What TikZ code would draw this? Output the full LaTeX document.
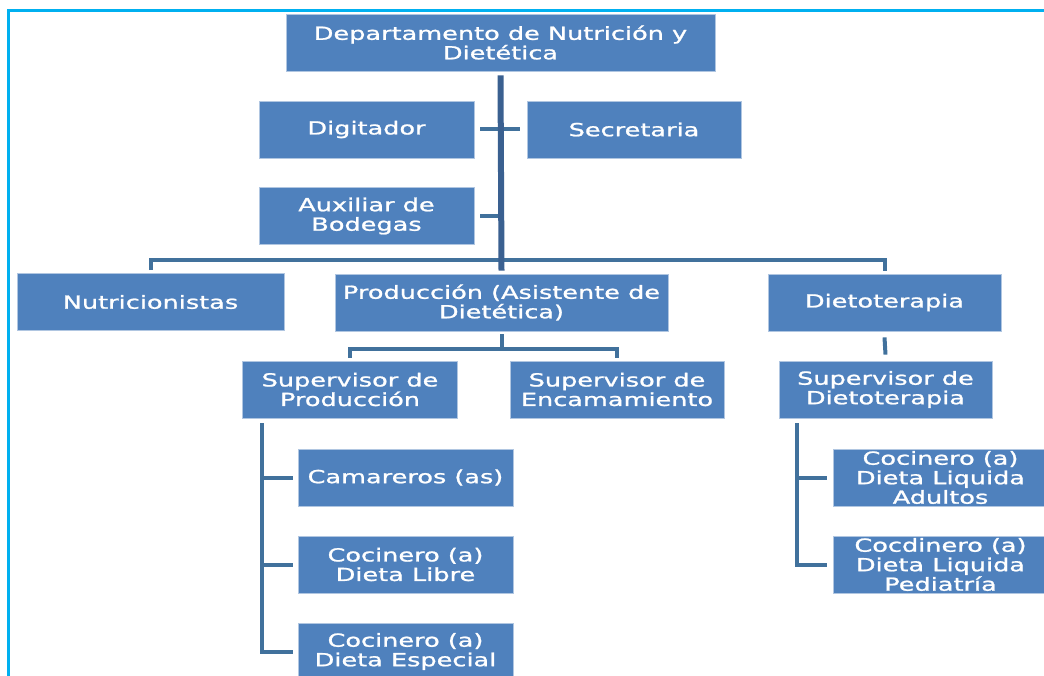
\documentclass[tikz,border=0pt]{standalone}
\usepackage{fontspec}
\setmainfont{DejaVu Sans}[FakeStretch=1.42, FakeBold=1.2]
\definecolor{boxblue}{HTML}{4F81BD}
\definecolor{lineblue}{HTML}{41719C}
\definecolor{trunkblue}{HTML}{3A6090}
\definecolor{framecyan}{HTML}{00B0F0}
\begin{document}
\begin{tikzpicture}[x=1pt,y=-1pt,
  unit/.style={rectangle, fill=boxblue, draw=boxblue!45!white, line width=0.8pt,
    text=white, minimum width=215pt, minimum height=57pt, inner sep=0pt,
    align=center, font=\fontsize{18}{19.5}\selectfont},
  link/.style={draw=lineblue, line width=4pt},
  trunk/.style={draw=trunkblue, line width=6pt}]
  \useasboundingbox (0,0) rectangle (1044,676);

  % frame
  \draw[framecyan, line width=3pt] (8,676) -- (8,11) -- (1044,11);

  % head and staff
  \node[unit, minimum width=429pt] (dept) at (500.5,42.5) {Departamento de Nutrición y\\Dietética};
  \node[unit] (digit) at (366.5,129.5) {Digitador};
  \node[unit, minimum width=214pt] (secre) at (634,129.5) {Secretaria};
  \node[unit] (aux) at (366.5,216) {Auxiliar de\\Bodegas};

  % areas
  \node[unit, minimum width=267pt] (nutri) at (150.5,302) {Nutricionistas};
  \node[unit, minimum width=333pt] (prod) at (501.5,302.5) {Producción (Asistente de\\Dietética)};
  \node[unit, minimum width=233pt] (dieto) at (884.5,302.5) {Dietoterapia};

  % supervisors
  \node[unit] (supprod) at (350,389.5) {Supervisor de\\Producción};
  \node[unit, minimum width=214pt] (supenc) at (617,389.5) {Supervisor de\\Encamamiento};
  \node[unit, minimum width=213pt] (supdiet) at (885.5,389.5) {Supervisor de\\Dietoterapia};

  % production staff
  \node[unit] (cam) at (405.5,477.5) {Camareros (as)};
  \node[unit] (libre) at (405.5,564.5) {Cocinero (a)\\Dieta Libre};
  \node[unit] (esp) at (405.5,651.5) {Cocinero (a)\\Dieta Especial};

  % dietoterapia staff
  \node[unit] (adult) at (940.5,477.5) {Cocinero (a)\\Dieta Liquida\\Adultos};
  \node[unit] (pedia) at (940.5,564.5) {Cocdinero (a)\\Dieta Liquida\\Pediatría};

  % lines
  \draw[link] ([xshift=6pt]digit.east) -- ([xshift=-7pt]secre.west);
  \draw[link] ([xshift=6pt]aux.east) -- (aux.east -| dept.south);
  \draw[link] ([yshift=3pt]nutri.north) |- ([yshift=14pt]prod.north) -| ([yshift=3pt]dieto.north);
  \draw[trunk] ([yshift=-4pt]dept.south) -- ([yshift=3pt]prod.north);

  \draw[link] ([yshift=-3pt]prod.south) -- ([yshift=12pt]prod.south |- supprod.north);
  \draw[link] ([yshift=3pt]supprod.north) |- ([yshift=12pt]supenc.north) -- ([yshift=3pt]supenc.north);
  \draw[link] ([yshift=-6pt]dieto.south) -- ([yshift=6pt]supdiet.north);

  \coordinate (pv) at ([xshift=19.5pt,yshift=-5pt]supprod.south west);
  \draw[link] (pv) |- ([xshift=-5pt]esp.west);
  \draw[link] (pv |- cam.west) -- ([xshift=-5pt]cam.west);
  \draw[link] (pv |- libre.west) -- ([xshift=-5pt]libre.west);

  \coordinate (dv) at ([xshift=18pt,yshift=-5pt]supdiet.south west);
  \draw[link] (dv) |- ([xshift=-6pt]pedia.west);
  \draw[link] (dv |- adult.west) -- ([xshift=-6pt]adult.west);
\end{tikzpicture}
\end{document}
